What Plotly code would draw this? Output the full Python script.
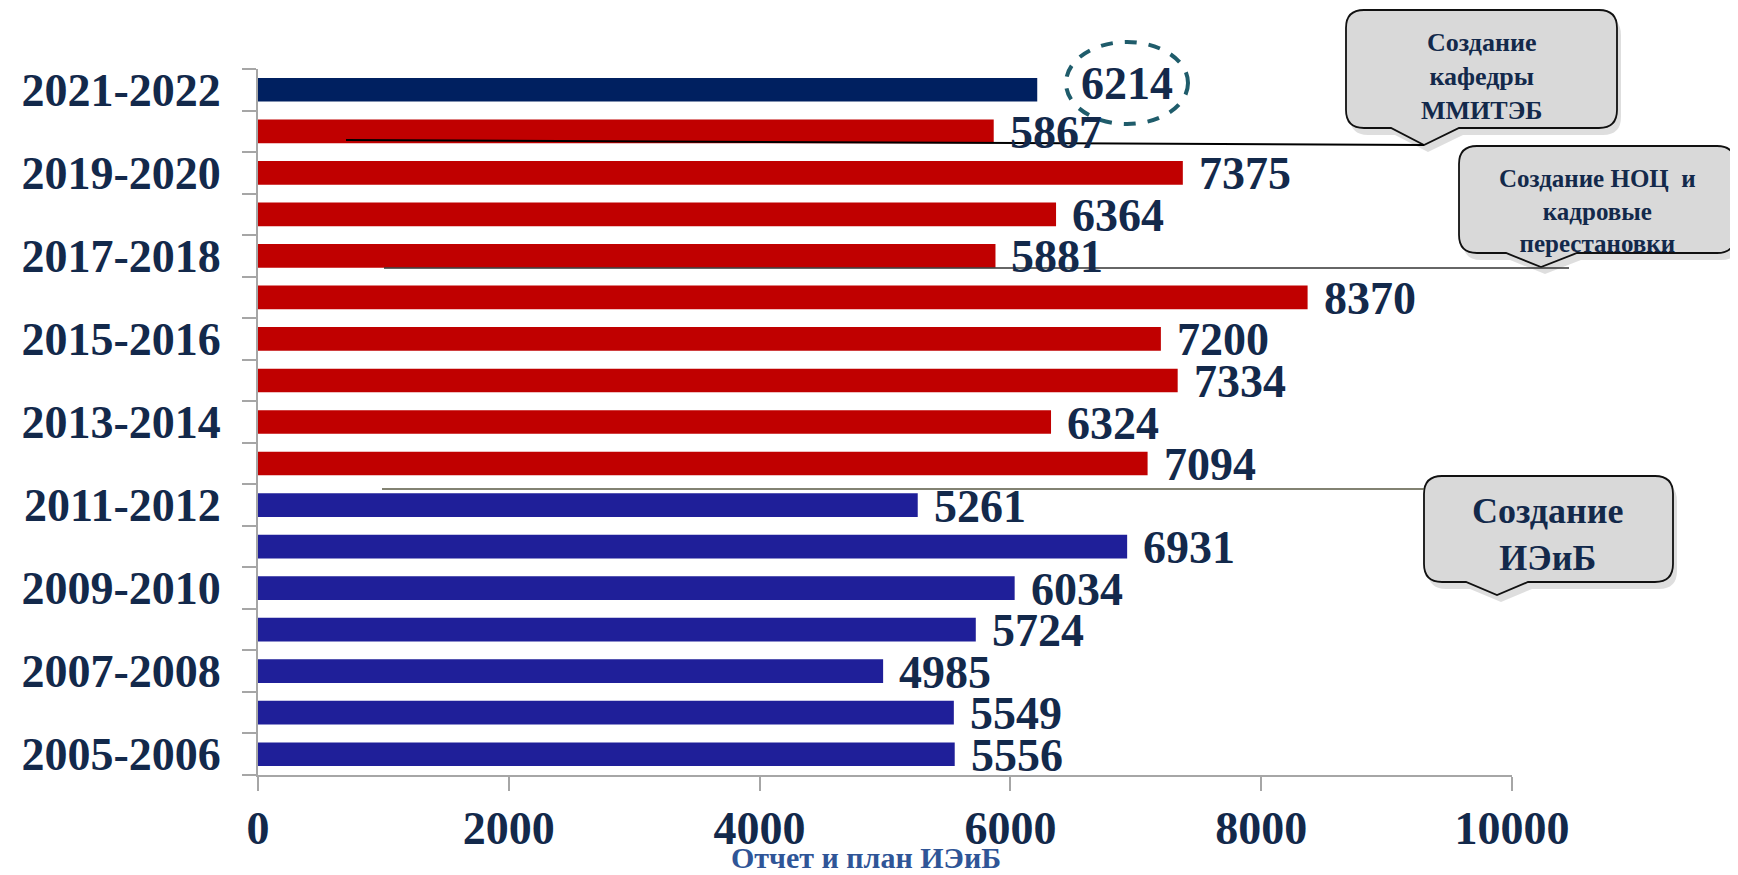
import plotly.graph_objects as go

# ---------------- data ----------------
periods = ["2005-2006", "2006-2007", "2007-2008", "2008-2009", "2009-2010",
           "2010-2011", "2011-2012", "2012-2013", "2013-2014", "2014-2015",
           "2015-2016", "2016-2017", "2017-2018", "2018-2019", "2019-2020",
           "2020-2021", "2021-2022"]
values = [5556, 5549, 4985, 5724, 6034, 6931, 5261, 7094, 6324, 7334,
          7200, 8370, 5881, 6364, 7375, 5867, 6214]
tick_labels = [p if i % 2 == 0 else "" for i, p in enumerate(periods)]
x_ticks = [0, 2000, 4000, 6000, 8000, 10000]
x_title = "Отчет и план ИЭиБ"
callout_texts = ["Создание<br>кафедры<br>ММИТЭБ",
                 "Создание НОЦ  и<br>кадровые<br>перестановки",
                 "Создание<br>ИЭиБ"]

# ---------------- style ----------------
BLUE, RED, NAVY = "#1F1F99", "#C00000", "#002060"
TXT = "#13294B"
FONT = "Liberation Serif"


def bar_color(p, i):
    if i == len(periods) - 1:
        return NAVY
    return BLUE if int(p[:4]) < 2012 else RED


colors = [bar_color(p, i) for i, p in enumerate(periods)]

# page has an 8px body margin: figure is drawn 8px in/down
OFF = 8
W, H = 1738 - OFF, 875 - OFF
# plot area in page pixels
L, R, T, B = 258, 1512, 69, 775


def px(x):
    return (x - L) / (R - L)


def py(y):
    return (B - y) / (B - T)


def callout_path(x0, y0, x1, y1, r, pb0, pb1, tx, ty, dx=0, dy=0):
    def P(x, y):
        return f"{px(x + dx):.5f},{py(y + dy):.5f}"
    return (f"M {P(x0 + r, y0)} L {P(x1 - r, y0)} Q {P(x1, y0)} {P(x1, y0 + r)} "
            f"L {P(x1, y1 - r)} Q {P(x1, y1)} {P(x1 - r, y1)} L {P(pb1, y1)} "
            f"L {P(tx, ty)} L {P(pb0, y1)} L {P(x0 + r, y1)} Q {P(x0, y1)} {P(x0, y1 - r)} "
            f"L {P(x0, y0 + r)} Q {P(x0, y0)} {P(x0 + r, y0)} Z")


fig = go.Figure()
fig.add_trace(go.Bar(
    x=values, y=periods, orientation="h",
    marker=dict(color=colors, line=dict(width=0)),
    hoverinfo="skip",
))

shapes = []
boxes = [
    (1346, 10, 1617, 128, 18, 1391, 1459, 1424, 145),
    (1459, 146, 1735, 253, 18, 1506, 1577, 1541, 267),
    (1424, 476, 1673, 582, 18, 1466, 1528, 1497, 595),
]
for b in boxes:
    shapes.append(dict(type="path", xref="paper", yref="paper",
                       path=callout_path(*b, dx=4, dy=7),
                       fillcolor="rgba(0,0,0,0.13)", line=dict(width=0)))
for b in boxes:
    shapes.append(dict(type="path", xref="paper", yref="paper",
                       path=callout_path(*b),
                       fillcolor="#D9D9D9", line=dict(color="#111111", width=1.8)))
shapes.append(dict(type="line", xref="paper", yref="paper",
                   x0=px(346), y0=py(140), x1=px(1424), y1=py(145),
                   line=dict(color="#000000", width=2)))
shapes.append(dict(type="line", xref="paper", yref="paper",
                   x0=px(384), y0=py(268), x1=px(1569), y1=py(268),
                   line=dict(color="#333333", width=1.5)))
shapes.append(dict(type="line", xref="paper", yref="paper",
                   x0=px(382), y0=py(489), x1=px(1424), y1=py(489),
                   line=dict(color="#595943", width=1.5)))
shapes.append(dict(type="circle", xref="paper", yref="paper",
                   x0=px(1066), y0=py(124), x1=px(1188), y1=py(42),
                   line=dict(color="#1F5C6B", width=4, dash="dash")))

label_font = dict(family=FONT, size=46, color=TXT, weight="bold")
annotations = []
for i, (p, v) in enumerate(zip(periods, values)):
    last = i == len(periods) - 1
    annotations.append(dict(
        x=v, y=p, xref="x", yref="y", text=str(v), showarrow=False,
        xanchor="left", yanchor="middle", xshift=42 if last else 14,
        yshift=6 if last else -1, font=label_font))

annotations += [
    dict(x=px(1481), y=py(77), xref="paper", yref="paper", text=callout_texts[0],
         showarrow=False, font=dict(family=FONT, size=26, color=TXT, weight="bold"),
         xanchor="center", yanchor="middle"),
    dict(x=px(1597), y=py(211), xref="paper", yref="paper", text=callout_texts[1],
         showarrow=False, font=dict(family=FONT, size=25, color=TXT, weight="bold"),
         xanchor="center", yanchor="middle"),
    dict(x=px(1548), y=py(534), xref="paper", yref="paper", text=callout_texts[2],
         showarrow=False, font=dict(family=FONT, size=36, color=TXT, weight="bold"),
         xanchor="center", yanchor="middle"),
    dict(x=px(866), y=py(857), xref="paper", yref="paper", text=x_title,
         showarrow=False, font=dict(family=FONT, size=30, color="#2F5597", weight="bold"),
         xanchor="center", yanchor="middle"),
]

fig.update_layout(
    width=W, height=H,
    margin=dict(l=L - OFF, r=W - (R - OFF), t=T - OFF, b=H - (B - OFF), pad=0),
    paper_bgcolor="white", plot_bgcolor="white",
    showlegend=False, bargap=0.43,
    font=dict(family=FONT, color=TXT),
    shapes=shapes, annotations=annotations,
    xaxis=dict(range=[0, 10000], tickvals=x_ticks, ticktext=[str(v) for v in x_ticks],
               showgrid=False, zeroline=False, showline=True, linecolor="#A6A6A6",
               linewidth=2, ticks="outside", ticklen=14, tickwidth=2, tickcolor="#A6A6A6",
               ticklabelstandoff=-2, tickfont=label_font, automargin=False),
    yaxis=dict(type="category", categoryorder="array", categoryarray=periods,
               range=[-0.5, len(periods) - 0.5],
               tickvals=periods, ticktext=tick_labels, tickson="boundaries",
               showgrid=False, zeroline=False, showline=True, linecolor="#A6A6A6",
               linewidth=2, ticks="outside", ticklen=14, tickwidth=2, tickcolor="#A6A6A6",
               ticklabelstandoff=26, tickfont=label_font, automargin=False),
)

fig.write_html("out.html")
